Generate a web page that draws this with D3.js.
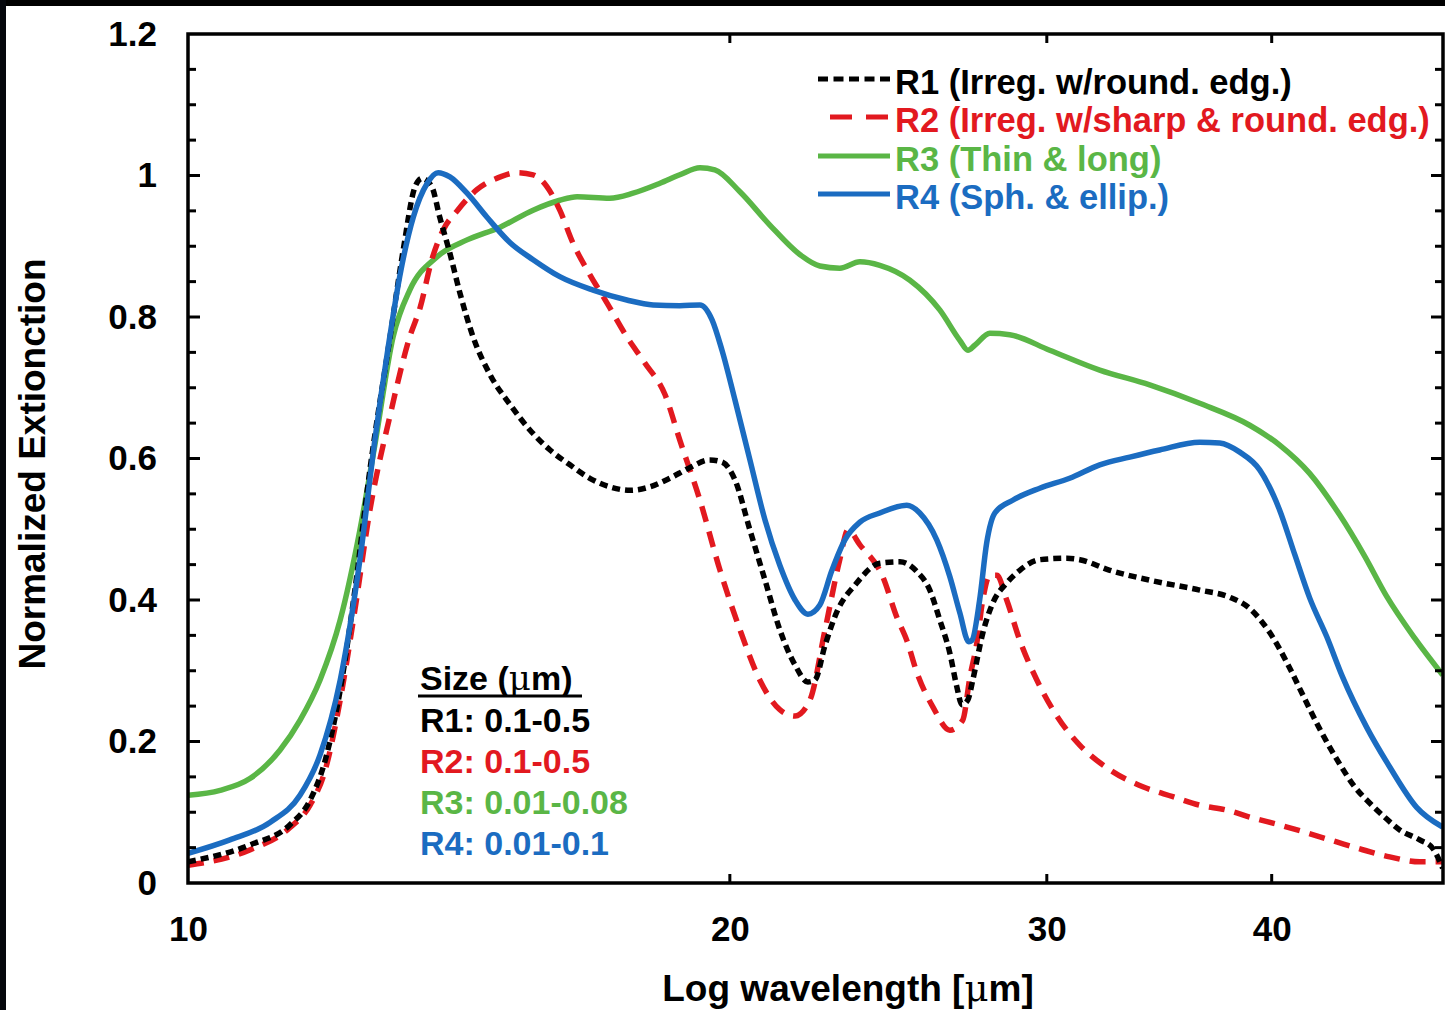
<!DOCTYPE html>
<html>
<head>
<meta charset="utf-8">
<script src="https://cdn.jsdelivr.net/npm/d3@7"></script>
<style>
  body { margin: 0; background: #fff; }
  svg { display: block; }
  text { font-family: "Liberation Sans", Arial, Helvetica, sans-serif; font-weight: bold; }
</style>
</head>
<body>
<svg id="chart" width="1445" height="1010"></svg>
<script>
// series labels and colours
var seriesNames = ["R1 (Irreg. w/round. edg.)", "R2 (Irreg. w/sharp & round. edg.)", "R3 (Thin & long)", "R4 (Sph. & ellip.)"];
var seriesSizes = ["R1: 0.1-0.5", "R2: 0.1-0.5", "R3: 0.01-0.08", "R4: 0.01-0.1"];
var xTicks = [10, 20, 30, 40];
var yLabelTicks = [0, 0.2, 0.4, 0.6, 0.8, 1, 1.2];

// R1 - black dotted
var r1Wave = [10.00, 10.83, 11.39, 11.69, 11.92, 12.15, 12.38, 12.62, 12.95, 13.17, 13.37, 13.49, 13.66, 13.80, 13.98, 14.16, 14.40, 14.72, 15.10, 15.49, 15.89, 16.30, 16.72, 17.15, 17.60, 18.06, 18.52, 19.00, 19.49, 19.80, 20.13, 20.52, 20.92, 21.32, 21.74, 22.10, 22.30, 22.59, 22.96, 23.47, 24.23, 24.86, 25.41, 25.83, 26.16, 26.50, 26.74, 26.91, 27.12, 27.29, 27.64, 28.00, 28.50, 28.98, 29.73, 30.78, 31.29, 32.52, 34.22, 36.48, 37.90, 38.89, 39.90, 40.93, 41.62, 42.53, 43.64, 44.48, 45.34, 46.22, 47.12, 48.34, 49.15, 49.78];
var r1Ext = [0.030, 0.054, 0.082, 0.117, 0.174, 0.273, 0.414, 0.584, 0.772, 0.895, 0.984, 0.996, 0.984, 0.941, 0.890, 0.834, 0.772, 0.718, 0.676, 0.640, 0.612, 0.591, 0.572, 0.560, 0.555, 0.560, 0.572, 0.587, 0.598, 0.595, 0.570, 0.499, 0.428, 0.358, 0.308, 0.284, 0.287, 0.336, 0.386, 0.421, 0.452, 0.454, 0.440, 0.414, 0.372, 0.325, 0.277, 0.252, 0.259, 0.287, 0.353, 0.396, 0.424, 0.442, 0.457, 0.459, 0.457, 0.442, 0.428, 0.414, 0.404, 0.388, 0.354, 0.304, 0.266, 0.218, 0.168, 0.136, 0.113, 0.093, 0.075, 0.061, 0.049, 0.021];

// R2 - red dashed
var r2Wave = [10.00, 10.83, 11.39, 11.69, 11.92, 12.15, 12.38, 12.62, 12.95, 13.28, 13.46, 13.66, 13.86, 14.12, 14.47, 14.91, 15.23, 15.55, 15.83, 16.09, 16.36, 16.72, 17.09, 17.53, 17.94, 18.41, 18.76, 19.25, 19.75, 20.26, 20.78, 21.32, 21.74, 22.16, 22.59, 23.02, 23.26, 23.62, 24.32, 24.76, 25.08, 25.41, 25.93, 26.50, 26.94, 27.19, 27.43, 27.64, 27.89, 28.14, 28.50, 28.98, 29.62, 30.78, 31.29, 32.52, 33.92, 35.25, 36.48, 37.77, 39.04, 40.41, 41.83, 43.47, 44.94, 46.52, 48.34, 49.78];
var r2Ext = [0.025, 0.047, 0.078, 0.110, 0.160, 0.259, 0.386, 0.527, 0.661, 0.772, 0.814, 0.881, 0.923, 0.951, 0.980, 0.998, 1.004, 1.001, 0.984, 0.951, 0.905, 0.860, 0.820, 0.772, 0.735, 0.690, 0.626, 0.541, 0.442, 0.358, 0.287, 0.245, 0.236, 0.259, 0.358, 0.457, 0.499, 0.478, 0.433, 0.376, 0.343, 0.297, 0.249, 0.216, 0.230, 0.291, 0.339, 0.400, 0.435, 0.435, 0.400, 0.343, 0.287, 0.216, 0.195, 0.160, 0.136, 0.122, 0.110, 0.103, 0.092, 0.082, 0.071, 0.058, 0.047, 0.037, 0.030, 0.030];

// R3 - green solid
var r3Wave = [10.00, 10.42, 10.83, 11.25, 11.54, 11.84, 12.15, 12.46, 12.70, 13.00, 13.28, 13.75, 14.29, 14.91, 15.55, 16.09, 16.45, 17.15, 17.67, 18.29, 18.76, 19.25, 19.62, 20.26, 21.05, 21.88, 22.44, 23.02, 23.62, 24.23, 25.18, 26.16, 26.84, 27.12, 27.36, 27.89, 28.61, 30.11, 32.10, 34.22, 36.48, 38.89, 40.41, 41.99, 43.64, 45.05, 46.34, 48.03, 49.78];
var r3Ext = [0.124, 0.131, 0.148, 0.188, 0.230, 0.287, 0.372, 0.499, 0.619, 0.772, 0.838, 0.885, 0.909, 0.927, 0.951, 0.965, 0.970, 0.968, 0.975, 0.989, 1.001, 1.011, 1.008, 0.977, 0.930, 0.888, 0.872, 0.869, 0.878, 0.873, 0.852, 0.810, 0.767, 0.753, 0.760, 0.777, 0.775, 0.753, 0.725, 0.704, 0.678, 0.647, 0.619, 0.579, 0.520, 0.462, 0.405, 0.346, 0.294];

// R4 - blue solid
var r4Wave = [10.00, 10.55, 11.11, 11.54, 11.84, 12.15, 12.46, 12.70, 12.92, 13.11, 13.34, 13.58, 13.77, 13.98, 14.29, 14.66, 15.10, 15.55, 16.09, 16.79, 17.53, 18.13, 18.76, 19.25, 19.55, 19.80, 20.13, 20.52, 20.92, 21.32, 21.74, 22.10, 22.44, 22.79, 23.17, 23.62, 24.23, 25.08, 25.50, 26.06, 26.50, 26.84, 27.15, 27.26, 27.53, 27.78, 28.07, 28.72, 29.73, 30.89, 32.10, 33.36, 34.66, 36.48, 37.43, 38.40, 39.39, 40.41, 41.20, 41.99, 42.92, 43.80, 45.17, 46.52, 48.15, 49.78];
var r4Ext = [0.042, 0.061, 0.086, 0.124, 0.181, 0.287, 0.457, 0.626, 0.758, 0.857, 0.941, 0.989, 1.004, 0.998, 0.975, 0.941, 0.905, 0.881, 0.857, 0.838, 0.824, 0.817, 0.816, 0.817, 0.796, 0.753, 0.683, 0.598, 0.513, 0.449, 0.400, 0.380, 0.393, 0.442, 0.485, 0.510, 0.523, 0.534, 0.523, 0.485, 0.433, 0.382, 0.341, 0.343, 0.400, 0.481, 0.523, 0.541, 0.558, 0.572, 0.591, 0.602, 0.612, 0.623, 0.622, 0.609, 0.584, 0.527, 0.464, 0.403, 0.348, 0.291, 0.220, 0.164, 0.107, 0.079];

var colors = ["#000000", "#e2191f", "#5ab646", "#1b6cc1"];
var dashes = ["8,5", "16,10", null, null];

var svg = d3.select("#chart");

// dark frame strips along top and left of the picture
svg.append("rect").attr("x", 0).attr("y", 0).attr("width", 1445).attr("height", 6).attr("fill", "#000");
svg.append("rect").attr("x", 0).attr("y", 0).attr("width", 6).attr("height", 1010).attr("fill", "#05070c");

var plotLeft = 188, plotRight = 1443, plotTop = 34, plotBottom = 883;

var x = d3.scaleLog().domain([10, 49.8]).range([plotLeft, plotRight]);
var y = d3.scaleLinear().domain([0, 1.2]).range([plotBottom, plotTop]);

var series = [
  d3.zip(r1Wave, r1Ext),
  d3.zip(r2Wave, r2Ext),
  d3.zip(r3Wave, r3Ext),
  d3.zip(r4Wave, r4Ext)
];

svg.append("clipPath").attr("id", "plotclip")
  .append("rect").attr("x", plotLeft).attr("y", plotTop).attr("width", plotRight - plotLeft).attr("height", plotBottom - plotTop);

var line = d3.line()
  .x(function(d) { return x(d[0]); })
  .y(function(d) { return y(d[1]); })
  .curve(d3.curveMonotoneX);

// draw order: green, red, black, blue
var order = [2, 1, 0, 3];
svg.append("g").attr("clip-path", "url(#plotclip)")
  .selectAll("path")
  .data(order)
  .enter()
  .append("path")
  .attr("d", function(i) { return line(series[i]); })
  .attr("fill", "none")
  .attr("stroke", function(i) { return colors[i]; })
  .attr("stroke-width", 5.5)
  .attr("stroke-dasharray", function(i) { return dashes[i]; })
  .attr("stroke-linejoin", "round");

// axes
var yTicksAll = d3.range(1, 24).map(function(i) { return +(i * 0.05).toFixed(2); });
function isMajor(v) { return Math.abs(v * 5 - Math.round(v * 5)) < 1e-6; }

var yAxis = d3.axisLeft(y)
  .tickValues(yLabelTicks)
  .tickSize(0)
  .tickPadding(31)
  .tickFormat(d3.format("~g"));
var gy = svg.append("g").attr("transform", "translate(" + plotLeft + ",0)").call(yAxis);
gy.select(".domain").remove();
gy.selectAll("text").attr("font-size", 35).attr("fill", "#000").attr("font-family", "Liberation Sans, Arial, sans-serif");

var xAxis = d3.axisBottom(x)
  .tickValues(xTicks)
  .tickSize(0)
  .tickPadding(33)
  .tickFormat(d3.format("d"));
var gx = svg.append("g").attr("transform", "translate(0," + plotBottom + ")").call(xAxis);
gx.select(".domain").remove();
gx.selectAll("text").attr("font-size", 35).attr("fill", "#000").attr("font-family", "Liberation Sans, Arial, sans-serif");

// inward tick marks on all four sides
var tickG = svg.append("g").attr("stroke", "#000").attr("stroke-width", 3);
yTicksAll.forEach(function(v) {
  var len = isMajor(v) ? 12 : 8;
  tickG.append("line").attr("x1", plotLeft).attr("x2", plotLeft + len).attr("y1", y(v)).attr("y2", y(v));
  tickG.append("line").attr("x1", plotRight).attr("x2", plotRight - len).attr("y1", y(v)).attr("y2", y(v));
});
xTicks.slice(1).forEach(function(v) {
  tickG.append("line").attr("x1", x(v)).attr("x2", x(v)).attr("y1", plotBottom).attr("y2", plotBottom - 9);
  tickG.append("line").attr("x1", x(v)).attr("x2", x(v)).attr("y1", plotTop).attr("y2", plotTop + 9);
});

// plot frame
svg.append("rect")
  .attr("x", plotLeft).attr("y", plotTop)
  .attr("width", plotRight - plotLeft).attr("height", plotBottom - plotTop)
  .attr("fill", "none").attr("stroke", "#000").attr("stroke-width", 3.5);

// axis titles
var xt = svg.append("text")
  .attr("x", 848).attr("y", 1001)
  .attr("text-anchor", "middle").attr("font-size", 37).attr("fill", "#000");
xt.append("tspan").text("Log wavelength [");
xt.append("tspan").attr("font-weight", "normal").attr("font-family", "DejaVu Serif, serif").text("\u03bc");
xt.append("tspan").text("m]");

svg.append("text")
  .attr("transform", "translate(45,464) rotate(-90)")
  .attr("text-anchor", "middle").attr("font-size", 37).attr("fill", "#000")
  .text("Normalized Extionction");

// top-right legend
var legendY = [82, 120, 159, 197];
var legendLineStart = [818, 830, 818, 818];
var legendDash = ["10,5.5", "22,14", null, null];
var lg = svg.append("g");
seriesNames.forEach(function(name, i) {
  lg.append("line")
    .attr("x1", legendLineStart[i]).attr("x2", 890)
    .attr("y1", legendY[i] - 3).attr("y2", legendY[i] - 3)
    .attr("stroke", colors[i]).attr("stroke-width", 5)
    .attr("stroke-dasharray", legendDash[i]);
  lg.append("text")
    .attr("x", 895).attr("y", legendY[i] + 12)
    .attr("font-size", 34.5).attr("fill", colors[i])
    .text(name);
});

// size legend
var sz = svg.append("text").attr("x", 420).attr("y", 690).attr("font-size", 34).attr("fill", "#000");
sz.append("tspan").text("Size (");
sz.append("tspan").attr("font-weight", "normal").attr("font-family", "DejaVu Serif, serif").text("\u03bc");
sz.append("tspan").text("m)");
svg.append("line").attr("x1", 418).attr("x2", 582).attr("y1", 696).attr("y2", 696)
  .attr("stroke", "#000").attr("stroke-width", 3);

var sizeY = [732, 773, 814, 855];
seriesSizes.forEach(function(s, i) {
  svg.append("text")
    .attr("x", 420).attr("y", sizeY[i])
    .attr("font-size", 34).attr("fill", colors[i])
    .text(s);
});
</script>
</body>
</html>
